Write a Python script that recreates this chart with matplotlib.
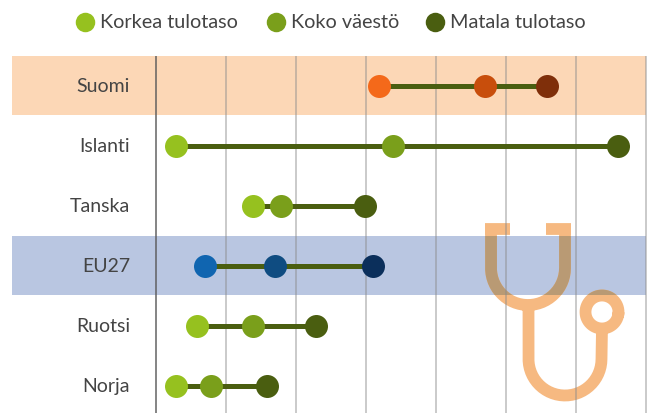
import matplotlib
matplotlib.use("Agg")
import matplotlib.pyplot as plt
from matplotlib.patches import PathPatch, Rectangle
from matplotlib.path import Path
from matplotlib.transforms import Affine2D
import numpy as np

plt.rcParams['font.family'] = ['Lato', 'DejaVu Sans']

countries = ["Suomi", "Islanti", "Tanska", "EU27", "Ruotsi", "Norja"]
korkea = [3.19, 0.29, 1.39, 0.70, 0.59, 0.29]
koko = [4.70, 3.39, 1.79, 1.70, 1.39, 0.79]
matala = [5.59, 6.60, 2.99, 3.10, 2.29, 1.59]
series_names = ["Korkea tulotaso", "Koko väestö", "Matala tulotaso"]

green = ["#96C11F", "#7A9F1B", "#4A5E10"]
orange = ["#F4691A", "#C84E0C", "#7F2F0A"]
blue = ["#1065B0", "#0F4C81", "#0B2F5B"]
row_colors = {"Suomi": orange, "EU27": blue}
band_colors = {"Suomi": "#FCD7B6", "EU27": "#B9C6E1"}

W, H = 650, 413
px = 72 / 100  # pixels to points

fig = plt.figure(figsize=(W / 100, H / 100), dpi=100)
ax = fig.add_axes([0, 0, 1, 1])
ax.set_xlim(-156 / 70, (W - 156) / 70)
ax.set_ylim((H - 86) / 60, -86 / 60)
ax.axis("off")


def to_x(p):
    return (p - 156) / 70


# background bands
for i, c in enumerate(countries):
    if c in band_colors:
        ax.fill_between([to_x(12), to_x(646)], i - 0.5, i + 0.485,
                        color=band_colors[c], lw=0, zorder=1)

# stethoscope icon, in pixel coordinates of the picture
def arc(cx, cy, r, a0, a1):
    t = np.radians(np.linspace(a0, a1, 60))
    return np.column_stack([cx + r * np.cos(t), cy + r * np.sin(t)])


pieces = [
    np.array([[485, 229], [510, 229]]),
    np.array([[546, 229], [571, 229]]),
    np.vstack([[[491, 229]], arc(528, 268, 37, 180, 0), [[565, 229]]]),
    np.vstack([[[528.5, 305]], arc(565, 359, 36.5, 180, 0), [[602, 328]]]),
    arc(602, 312, 16.5, 0, 375),
]
verts, codes = [], []
for p in pieces:
    verts.extend(p.tolist())
    codes.extend([Path.MOVETO] + [Path.LINETO] * (len(p) - 1))
to_display = Affine2D().scale(1, -1).translate(0, H)
icon = Path(verts, codes)
ax.add_patch(PathPatch(icon, fc="none", ec="#F6B981", lw=11.8 * px,
                       capstyle="butt", joinstyle="round",
                       transform=to_display, zorder=2))
# the icon blends darker where it crosses the EU27 band
over_band = PathPatch(icon, fc="none", ec="#B99A74", lw=11.8 * px,
                      capstyle="butt", joinstyle="round",
                      transform=to_display, zorder=2.1)
ax.add_patch(over_band)
over_band.set_clip_path(Rectangle((to_x(12), 2.5), to_x(646) - to_x(12), 0.985,
                                  transform=ax.transData))

# grid
for k in range(8):
    ax.plot([k, k], [-0.5, 5.45], color="#5A5A5A" if k == 0 else "#8C8C8C",
            lw=(1.6 if k == 0 else 1.5) * px, alpha=0.9 if k == 0 else 0.6,
            solid_capstyle="butt", zorder=3)

# dumbbells
for i, c in enumerate(countries):
    ax.plot([korkea[i], matala[i]], [i, i], color="#4A5E10", lw=5 * px,
            solid_capstyle="butt", zorder=4)
    cols = row_colors.get(c, green)
    for vals, col in zip([korkea, koko, matala], cols):
        ax.plot(vals[i], i, "o", color=col, ms=23 * px, mew=0, zorder=5)
    ax.text(to_x(130), i + 0.01, c, ha="right", va="center", fontsize=14,
            color="#444444", zorder=6)

# legend
legend_x = [85, 276, 435]
for x, name, col in zip(legend_x, series_names, green):
    ax.plot(to_x(x), (22 - 86) / 60, "o", color=col, ms=19.5 * px, mew=0)
    ax.text(to_x(x + 15), (22.5 - 86) / 60, name, ha="left", va="center",
            fontsize=14.3, color="#444444")

fig.savefig("out.png", dpi=100)
